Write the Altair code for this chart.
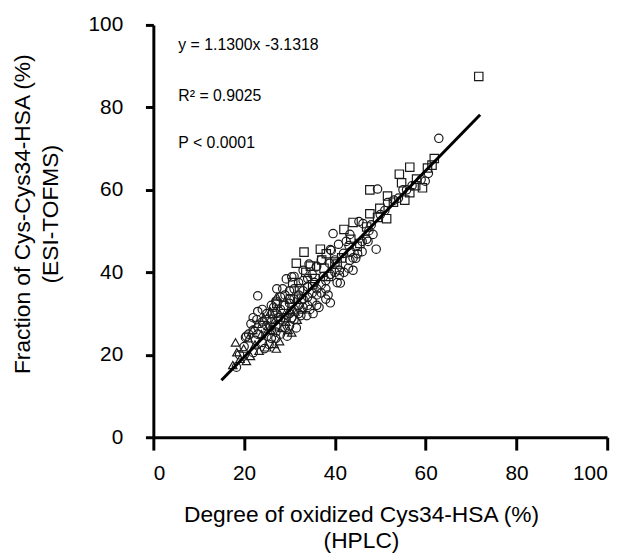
import altair as alt
import pandas as pd

# ---- data ----
sq_x = [71.7, 61.9, 56.5, 54.2, 54.7, 56.5, 60.4, 61.4, 58.0, 47.7, 51.6, 47.7, 49.4, 44.0, 42.0, 44.9,
        33.2, 36.8, 31.5, 55.4, 52.9, 49.9, 47.0, 43.5, 40.0, 37.6, 35.6, 33.6, 32.2, 30.2, 35.1, 40.5,
        38.6, 28.7, 27.2, 32.6, 37.1, 41.5, 45.5, 59.3, 51.4, 57.8, 34.6, 30.7, 26.3, 29.2, 38.1]
sq_y = [87.5, 67.6, 65.5, 63.8, 61.7, 59.3, 65.3, 66.0, 62.6, 60.0, 58.5, 54.2, 53.3, 52.1, 50.4, 46.3,
        44.9, 45.6, 42.2, 57.5, 57.0, 55.5, 51.0, 48.0, 42.5, 41.0, 38.5, 40.0, 36.0, 33.5, 37.0, 42.0,
        39.0, 32.0, 32.5, 33.5, 43.0, 43.5, 47.0, 60.5, 53.0, 61.0, 41.5, 37.5, 30.0, 29.0, 44.5]

tri_x = [18.1, 18.4, 25.0, 26.6, 30.5, 27.2, 19.1, 20.5, 21.4, 27.1, 27.8, 17.5, 22.4, 23.8, 22.9, 25.3,
         26.8, 28.3, 29.2, 29.7, 21.9, 24.3, 25.8, 27.8, 31.2, 19.9, 20.9, 31.7, 25.8, 23.3, 32.7]
tri_y = [23.0, 20.6, 21.8, 22.6, 25.4, 34.1, 19.0, 18.5, 19.7, 21.5, 23.3, 17.5, 22.5, 25.0, 27.5, 27.0,
         28.5, 26.5, 28.0, 26.0, 26.0, 29.0, 30.5, 30.0, 30.5, 21.5, 24.0, 28.5, 26.0, 21.0, 31.0]

ci_x = [62.9, 59.9, 60.6, 49.4, 55.8, 51.6, 45.3, 46.2, 39.6, 43.3, 47.5, 48.4, 47.3, 49.1, 43.1, 40.8,
        39.2, 41.9, 44.6, 43.3, 34.3, 35.9, 38.8, 41.0, 41.2, 39.0, 33.8, 35.2, 23.0, 27.2, 29.3, 30.5,
        20.3, 18.3, 22.8, 20.5,
        22, 23, 24, 25, 26, 27, 28, 29, 30, 31, 32, 33, 34, 35, 36, 37, 38, 39, 40,
        24, 25, 26, 27, 28, 29, 30, 31, 32, 33, 34, 35, 36, 37, 38,
        22, 23, 24, 25, 26, 27, 28, 29, 30, 31, 32, 33, 34, 35, 36,
        25, 26, 27, 28, 29, 30, 31, 32, 33, 34, 21, 21.5, 20, 19, 22.5, 35.5, 37.5, 38.5, 40.5,
        42, 43, 44, 45, 46, 47, 48, 50, 51, 53, 54, 55, 57, 59, 36, 34.5, 32.5, 30.5, 29.5, 31.5,
        24.5, 22, 26.5, 28.5, 31, 33, 30, 27.5, 24, 37, 39, 43.5, 40, 41, 46, 44, 36.5, 38, 25.5,
        27, 42.5]
ci_y = [72.5, 62.1, 64.0, 60.2, 60.0, 56.9, 52.3, 51.8, 49.4, 49.2, 50.1, 49.2, 47.5, 45.6, 46.5, 46.8,
        45.3, 44.6, 43.4, 42.9, 42.0, 41.3, 42.2, 39.3, 37.4, 32.6, 29.5, 30.0, 34.3, 36.0, 38.4, 38.9,
        24.2, 17.0, 28.5, 24.5,
        26, 25, 26.5, 27, 28, 27, 28.5, 29, 30, 31, 32, 33.5, 34, 35, 36, 37, 38, 39.5, 40,
        23, 24.5, 24, 25.5, 25, 26.5, 27, 28.5, 30, 31.5, 32, 33, 34.5, 35, 36,
        29, 30.5, 31, 30, 32, 33, 34, 34.5, 35.5, 36, 37.5, 38, 38.5, 39.5, 41.5,
        28.5, 26, 30, 31, 32, 32.5, 33.5, 34.5, 35.5, 36.5, 25, 27.5, 22, 20, 23.5, 37.5, 39, 34.5, 37.5,
        40, 41, 43.5, 44.5, 47.5, 48, 51.5, 54, 55, 57.5, 58, 60, 61, 62.5, 32, 31, 29.5, 29, 24.5, 26.5,
        21.5, 20.5, 31.5, 36, 39, 40.5, 33.5, 29, 28, 43, 45.5, 45, 43, 40.5, 45, 40.5, 31.5, 33.5, 22.5,
        24, 47.5]

slope, intercept = 1.1300, -3.1318
fit_x = [15.0, 72.0]

x_ticks = [0, 20, 40, 60, 80, 100]
y_ticks = [0, 20, 40, 60, 80, 100]

ann_text = ["y = 1.1300x -3.1318", "R\u00b2 = 0.9025", "P < 0.0001"]
ann_x = [5.5, 5.5, 5.5]
ann_y = [95.2, 82.8, 71.3]

# ---- tables ----
pts = pd.concat([
    pd.DataFrame({"x": ci_x, "y": ci_y, "g": "circle"}),
    pd.DataFrame({"x": sq_x, "y": sq_y, "g": "square"}),
    pd.DataFrame({"x": tri_x, "y": tri_y, "g": "triangle"}),
], ignore_index=True)
fit = pd.DataFrame({"x": fit_x, "y": [slope * v + intercept for v in fit_x]})
ann = pd.DataFrame({"t": ann_text, "x": ann_x, "y": ann_y})

FONT = "Liberation Sans"
xs = alt.Scale(domain=[0, 100], nice=False, zero=False)
ys = alt.Scale(domain=[0, 100], nice=False, zero=False)

points = alt.Chart(pts).mark_point(filled=False, size=72, strokeWidth=1.2, color="#1a1a1a", opacity=1).encode(
    x=alt.X("x:Q", scale=xs, axis=alt.Axis(
        values=x_ticks, title=["Degree of oxidized Cys34-HSA (%)", "(HPLC)"],
        tickSize=13, labelPadding=13, titlePadding=20, titleX=210, titleLineHeight=27)),
    y=alt.Y("y:Q", scale=ys, axis=alt.Axis(
        values=y_ticks, title=["Fraction of Cys-Cys34-HSA (%)", "(ESI-TOFMS)"],
        tickSize=8, labelPadding=23, titlePadding=26, titleY=191, titleLineHeight=28)),
    shape=alt.Shape("g:N", scale=alt.Scale(domain=["circle", "square", "triangle"],
                                           range=["circle", "square", "triangle-up"]), legend=None),
)

line = alt.Chart(fit).mark_line(color="black", strokeWidth=3).encode(
    x=alt.X("x:Q", scale=xs), y=alt.Y("y:Q", scale=ys))

text = alt.Chart(ann).mark_text(align="left", baseline="middle", fontSize=16, font=FONT, color="black").encode(
    x=alt.X("x:Q", scale=xs), y=alt.Y("y:Q", scale=ys), text="t:N")

chart = alt.layer(points, line, text).properties(
    width=459, height=417,
    background="white",
    autosize=alt.AutoSizeParams(type="none"),
    padding={"left": 147, "top": 14, "right": 18, "bottom": 117},
).configure_view(stroke=None).configure_axis(
    grid=False, domainColor="black", domainWidth=3, tickColor="black", tickWidth=3,
    labelFont=FONT, labelFontSize=21, labelColor="black",
    titleFont=FONT, titleFontSize=23, titleFontWeight="normal", titleColor="black",
)

chart.save("out.html", embed_options={"renderer": "svg", "actions": False})
